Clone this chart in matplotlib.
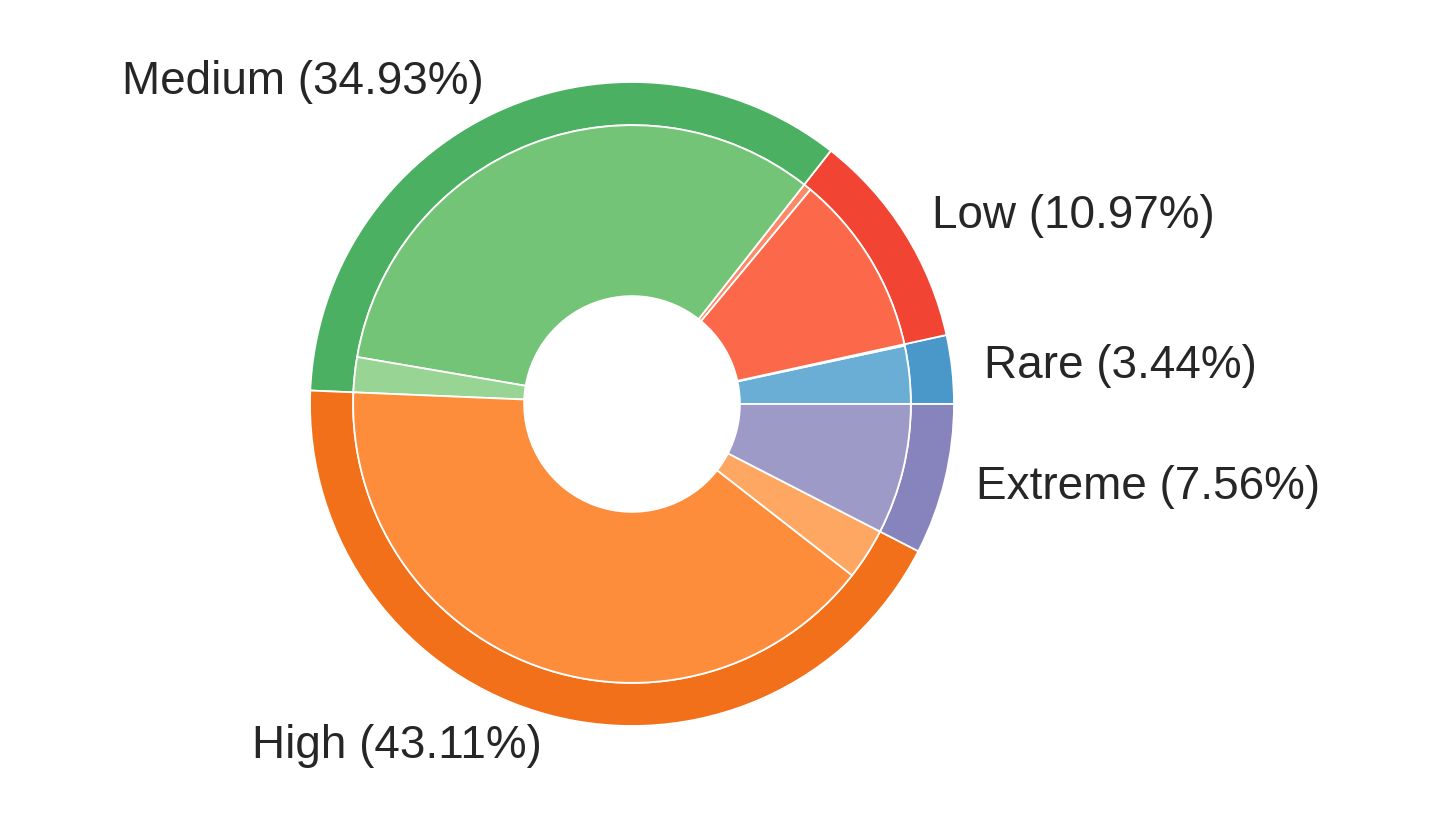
import matplotlib
matplotlib.use("Agg")
import matplotlib.pyplot as plt
import numpy as np

plt.rcParams['font.family'] = ['Liberation Sans', 'DejaVu Sans']

categories = ["Rare", "Low", "Medium", "High", "Extreme"]
outer_pct = [3.44, 10.97, 34.93, 43.11, 7.56]
# inner sub-splits (major part, minor part) per category, in % of total
inner_major = [3.36, 10.52, 32.90, 40.14, 7.56]
inner_minor = [0.08, 0.45, 2.03, 2.97, 0.0]
cmaps = ["Blues", "Reds", "Greens", "Oranges", "Purples"]

fig = plt.figure(figsize=(14.4, 8.31), dpi=100)
ax = fig.add_axes([0, 0, 1, 1])

R = 322.0
cx, cy = 632.0, 831 - 404.0

outer_colors = [plt.get_cmap(c)(0.6) for c in cmaps]
inner_vals, inner_colors = [], []
for maj, mnr, c in zip(inner_major, inner_minor, cmaps):
    cm = plt.get_cmap(c)
    inner_vals.append(maj); inner_colors.append(cm(0.5))
    if mnr > 0:
        inner_vals.append(mnr); inner_colors.append(cm(0.4))

labels = [f"{c} ({p:.2f}%)" for c, p in zip(categories, outer_pct)]

ax.pie(outer_pct, radius=1.0, colors=outer_colors, labels=labels,
       labeldistance=1.1, startangle=0, counterclock=True,
       wedgeprops=dict(width=0.134, edgecolor="white", linewidth=1.3),
       textprops=dict(fontsize=33, color="#262626"))
ax.pie(inner_vals, radius=0.866, colors=inner_colors, startangle=0,
       counterclock=True,
       wedgeprops=dict(width=0.531, edgecolor="white", linewidth=1.3))

ax.set_aspect('auto')
ax.set_xlim(-cx / R, (1440 - cx) / R)
ax.set_ylim(-cy / R, (831 - cy) / R)
ax.axis('off')

fig.savefig("out.png", dpi=100, facecolor="white")
